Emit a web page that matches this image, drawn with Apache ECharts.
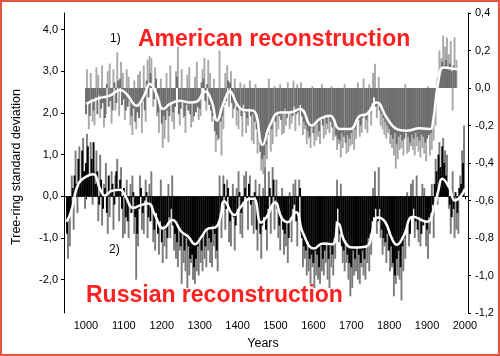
<!DOCTYPE html>
<html>
<head>
<meta charset="utf-8">
<script src="https://cdn.jsdelivr.net/npm/echarts@6/dist/echarts.min.js"></script>
<style>html,body{margin:0;padding:0;background:#fff}#c{width:500px;height:356px}</style>
</head>
<body>
<div id="c"></div>
<script>
// American reconstruction (right axis), 5-year steps starting 1000
const amStart = 1000;
const amDark = [
 -0.14,-0.08,-0.15,-0.06,-0.12,-0.05,-0.14,-0.04,-0.11,-0.08,-0.16,0.02,-0.10,-0.07,-0.12,0.03,-0.08,0.04,0.05,-0.09,
 -0.06,-0.12,-0.10,-0.07,-0.15,-0.11,-0.18,-0.13,-0.16,-0.09,-0.07,-0.12,0.04,-0.05,0.08,0.02,-0.06,0.05,-0.13,-0.09,
 -0.19,-0.15,-0.17,-0.12,-0.15,-0.08,-0.13,-0.10,0.06,-0.14,-0.11,-0.07,-0.15,-0.09,-0.12,-0.14,-0.08,-0.15,-0.13,-0.10,
 -0.11,0.03,0.05,-0.07,0.02,-0.09,-0.12,-0.15,-0.23,-0.25,-0.27,-0.18,-0.15,-0.09,-0.07,0.04,0.03,-0.08,-0.11,-0.09,
 -0.12,-0.10,-0.15,-0.09,-0.13,-0.16,-0.11,-0.15,-0.14,-0.18,-0.22,-0.26,-0.34,-0.38,-0.36,-0.30,-0.25,-0.19,-0.22,-0.16,
 -0.18,-0.13,-0.15,-0.17,-0.14,-0.11,-0.16,-0.13,-0.12,-0.15,-0.10,-0.14,-0.13,-0.09,-0.15,-0.18,-0.20,-0.23,-0.26,-0.21,
 -0.24,-0.20,-0.19,-0.23,-0.17,-0.20,-0.16,-0.19,-0.15,-0.18,-0.21,-0.19,-0.25,-0.27,-0.28,-0.24,-0.26,-0.29,-0.25,-0.27,
 -0.24,-0.21,-0.22,-0.18,-0.17,-0.20,-0.16,-0.14,-0.17,-0.12,-0.13,-0.08,-0.05,-0.10,-0.09,-0.12,-0.14,-0.16,-0.18,-0.20,
 -0.22,-0.25,-0.27,-0.24,-0.30,-0.26,-0.25,-0.28,-0.27,-0.24,-0.26,-0.29,-0.25,-0.27,-0.24,-0.26,-0.28,-0.25,-0.26,-0.29,
 -0.27,-0.25,-0.24,-0.20,-0.12,-0.04,0.06,0.10,0.14,0.12,0.15,0.11,0.13,0.09,0.12,0.10
];
const amLight = [
 0.10,-0.22,0.08,-0.18,-0.20,0.11,0.07,-0.16,0.12,-0.21,-0.14,0.09,0.13,-0.19,0.10,-0.12,0.19,-0.15,0.14,0.08,
 -0.17,0.10,0.06,-0.20,-0.25,0.04,-0.22,0.07,0.09,-0.24,0.12,-0.18,0.15,0.17,0.16,-0.10,0.11,-0.15,-0.24,0.05,
 -0.32,-0.27,0.08,-0.29,0.12,-0.18,-0.22,0.09,0.22,-0.20,0.10,-0.16,-0.24,0.07,0.11,-0.21,-0.18,0.06,0.14,-0.17,
 -0.15,0.10,0.16,-0.12,0.15,0.08,-0.18,0.05,-0.34,-0.28,0.20,-0.36,-0.22,0.08,0.12,-0.10,0.09,-0.16,0.05,-0.20,
 -0.22,0.03,-0.26,0.02,-0.24,-0.20,0.04,-0.28,-0.30,0.02,-0.35,-0.30,-0.44,-0.46,-0.42,-0.38,0.05,-0.34,-0.30,0.01,
 -0.26,-0.22,0.02,-0.25,-0.24,-0.20,0.03,-0.22,-0.19,0.04,-0.23,0.02,-0.20,0.03,-0.25,-0.22,-0.30,-0.27,-0.32,0.01,
 -0.31,-0.28,-0.26,-0.30,0.02,-0.27,-0.25,-0.22,-0.24,0.01,-0.28,-0.26,-0.33,-0.30,-0.37,-0.32,0.02,-0.35,-0.34,-0.31,
 -0.30,-0.33,-0.27,0.03,-0.26,-0.24,0.05,-0.22,-0.24,0.02,-0.20,0.08,0.13,-0.16,0.06,-0.20,-0.22,-0.25,-0.27,-0.24,
 -0.30,-0.32,-0.36,-0.43,-0.38,-0.33,-0.32,-0.36,0.02,-0.35,-0.34,-0.31,-0.33,-0.36,-0.31,-0.34,-0.37,-0.32,-0.35,-0.39,
 0.01,-0.36,-0.33,-0.28,-0.20,0.05,0.20,0.16,0.28,0.22,0.27,0.18,0.25,-0.12,0.27,0.15
];
const amSmoothYears = [1000,1037,1063,1090,1107,1134,1151,1169,1186,1204,1222,1248,1274,1292,1314,1331,1346,1362,1380,1398,1415,1441,1466,1485,1512,1538,1565,1596,1617,1644,1670,1697,1723,1741,1767,1793,1820,1846,1881,1908,1916,1930,1943,1960,1980];
const amSmoothVals = [-0.085,-0.053,-0.041,-0.011,-0.032,-0.094,-0.05,0.021,-0.032,-0.112,-0.085,-0.068,-0.077,-0.073,-0.018,-0.068,-0.174,-0.085,-0.018,-0.085,-0.117,-0.121,-0.302,-0.201,-0.13,-0.13,-0.112,-0.201,-0.165,-0.148,-0.219,-0.219,-0.148,-0.139,-0.077,-0.157,-0.219,-0.228,-0.215,-0.219,-0.174,0.039,0.11,0.105,0.10];

// Russian reconstruction (left axis), 5-year steps starting 950
const ruStart = 950;
const ruDark = [
 -0.9,-0.5,-0.3,0.2,0.5,0.3,0.9,0.4,1.1,0.6,0.8,1.2,0.5,0.9,1.3,0.3,0.6,-0.2,0.4,-0.3,
 0.2,-0.4,0.5,0.1,0.3,-0.2,0.6,0.2,0.4,-0.3,0.2,-0.5,-0.6,-0.2,-0.4,0.1,-0.5,-0.9,-0.3,0.2,
 -0.4,-0.1,0.1,-0.5,-0.6,-0.3,-0.8,-0.4,-0.9,-0.6,-1.1,-0.7,-0.8,-1.0,-0.5,-0.3,-0.7,-0.9,-1.1,-0.8,
 -1.2,-0.9,-1.3,-1.0,-1.2,-1.5,-1.4,-1.7,-1.5,-1.2,-1.1,-1.3,-0.9,-1.2,-0.8,-1.0,-1.1,-0.7,-0.9,-1.3,
 -0.6,-0.4,-0.2,0.3,-0.3,0.2,-0.6,-0.4,-0.5,-0.7,-0.3,0.1,-0.4,-0.2,0.2,-0.1,0.3,-0.2,-0.1,0.1,
 -0.8,-0.6,-0.9,-0.7,-0.5,-0.8,-0.3,0.2,-0.2,0.4,-0.1,-0.3,-0.7,-0.5,-0.8,-0.9,-0.6,-1.0,-0.5,-0.3,
 -0.2,-0.6,-0.4,0.2,-1.0,-1.2,-1.3,-1.1,-1.5,-1.4,-1.6,-1.3,-1.4,-1.7,-1.2,-1.5,-1.3,-1.1,-1.5,-1.2,
 -1.4,-1.0,-0.6,-0.3,-0.9,-1.2,-1.3,-1.1,-1.4,-1.6,-1.7,-1.3,-1.5,-1.2,-1.4,-1.6,-1.3,-1.5,-1.2,-1.0,
 -0.9,-0.6,-0.5,-0.3,-0.6,-0.3,-0.8,-1.0,-1.1,-0.9,-1.3,-1.2,-1.6,-1.9,-1.5,-1.3,-1.7,-1.2,-1.0,-0.8,
 -0.7,-0.9,-0.5,-0.3,-0.6,-0.8,-0.5,-0.9,-0.7,-0.6,-0.8,-0.5,-0.4,-0.2,0.3,0.6,1.0,0.7,1.2,0.8,
 0.5,0.3,-0.2,-0.5,-0.3,0.1,-0.4,0.2,0.3,0.8
];
const ruLight = [
 -1.5,-1.2,0.5,-0.8,1.1,-0.4,1.2,0.2,1.4,-0.3,1.5,0.4,1.3,-0.2,0.6,1.1,-0.6,1.0,-0.7,0.3,
 0.8,-0.9,-0.5,0.6,-0.8,0.5,0.9,-0.6,0.7,-1.0,-0.9,0.4,-1.0,0.3,0.5,-0.9,-2.0,-1.2,0.5,-0.8,
 -0.9,0.4,-1.0,0.3,0.6,-1.1,-1.3,-0.3,-1.4,0.4,-1.6,-1.2,-1.5,0.3,-1.0,0.5,-1.3,-1.5,-1.7,-1.3,
 -2.1,-1.6,-1.8,-2.2,-1.9,-1.6,-2.0,-2.1,-1.8,-1.9,-1.6,-1.8,-1.5,-1.7,-1.3,-1.6,-1.7,-1.2,-1.5,-1.8,
 0.5,-1.0,0.5,-0.8,0.4,-1.1,-1.2,0.3,-1.3,0.2,0.6,-0.9,-1.0,0.5,0.6,-0.8,0.5,-0.7,-0.9,0.4,
 -1.3,0.3,-1.5,0.2,0.7,-1.3,0.6,-0.9,0.7,-0.8,0.4,-1.0,-1.3,0.2,-1.4,-1.2,-1.6,0.1,-1.1,0.3,
 0.4,-1.2,0.4,-0.9,-1.7,-1.5,-1.9,-1.8,-2.1,-1.7,-2.2,-1.9,-2.0,-2.1,-1.8,-1.9,-1.6,-2.0,-2.2,-1.7,
 -1.9,-1.5,0.4,-1.1,0.3,-1.6,-1.8,-1.6,-2.0,-2.4,-2.2,-1.9,-1.8,-2.0,-2.1,-1.7,-1.9,-2.0,-1.6,-1.8,
 -1.4,0.2,0.6,-0.9,0.7,-1.0,-1.4,-1.2,-1.6,-1.3,-1.8,-1.7,-2.4,-2.1,-1.9,-2.0,-2.5,-1.8,-1.5,0.1,
 -1.2,0.3,0.4,-1.0,0.5,-1.1,-1.2,0.3,0.2,-1.2,-1.5,-0.9,0.3,-1.0,0.9,-0.2,1.3,0.5,1.4,1.1,
 1.0,-0.3,-0.9,0.6,-1.0,-0.8,-0.9,0.5,1.1,1.7
];
const ruSmoothYears = [949,962,980,1002,1019,1037,1050,1068,1090,1103,1125,1142,1164,1182,1204,1228,1252,1270,1288,1305,1323,1340,1354,1365,1392,1408,1432,1443,1462,1477,1499,1517,1532,1554,1573,1602,1626,1650,1666,1683,1705,1728,1745,1754,1763,1770,1789,1807,1820,1837,1864,1899,1917,1930,1940,1958,1974,1987,2000];
const ruSmoothVals = [-0.61,-0.33,0.30,0.48,0.53,0.18,0.02,0.13,0.16,0.02,-0.28,-0.22,-0.17,-0.45,-0.77,-0.57,-0.85,-0.97,-1.15,-0.97,-0.77,-0.75,-0.53,-0.12,-0.45,-0.26,-0.06,-0.06,-0.63,-0.49,-0.15,-0.53,-0.62,-0.38,-0.89,-1.25,-1.13,-1.15,-0.65,-1.09,-1.23,-1.22,-1.17,-0.90,-0.57,-0.51,-0.61,-1.01,-1.16,-0.97,-0.49,-0.61,-0.33,0.15,0.42,0.22,-0.10,-0.02,0.18];

const yLeftLabels = v => (Math.abs(v - Math.round(v)) < 1e-6 ? v.toFixed(1).replace('.', ',') : '');
const yRightLabels = v => v.toFixed(1).replace('.', ',').replace('-0,0', '0,0');
const xLabels = v => (Math.abs(v % 100) < 1e-6 ? String(v) : '');

const chart = echarts.init(document.getElementById('c'), null, {renderer: 'canvas'});
const font = '"Liberation Sans", Arial, sans-serif';
const axisLineStyle = {show: true, lineStyle: {color: '#000', width: 1}};

const option = {
  animation: false,
  backgroundColor: '#ffffff',
  grid: {left: 64, right: 32, top: 13, bottom: 43},
  xAxis: {
    type: 'value', min: 942, max: 2008, splitNumber: 10,
    axisLine: axisLineStyle,
    axisTick: {show: true, length: 3, lineStyle: {color: '#000'}},
    splitLine: {show: false},
    axisLabel: {formatter: xLabels, showMinLabel: false, showMaxLabel: false, color: '#000', fontSize: 11, fontFamily: font, margin: 7}
  },
  yAxis: [
    {
      type: 'value', min: -2.8, max: 4.4, splitNumber: 7, position: 'left',
      axisLine: axisLineStyle,
      axisTick: {show: true, length: 3, lineStyle: {color: '#000'}},
      splitLine: {show: false},
      axisLabel: {formatter: yLeftLabels, showMinLabel: false, showMaxLabel: false, color: '#000', fontSize: 11, fontFamily: font, margin: 6}
    },
    {
      type: 'value', min: -1.2, max: 0.4, interval: 0.2, position: 'right',
      axisLine: axisLineStyle,
      axisTick: {show: true, length: 3, lineStyle: {color: '#000'}},
      splitLine: {show: false},
      axisLabel: {formatter: yRightLabels, color: '#000', fontSize: 11, fontFamily: font, margin: 7}
    }
  ],
  series: [
    {type: 'bar', yAxisIndex: 1, barWidth: 1.9, barGap: '-100%', silent: true,
     itemStyle: {color: '#a8a8a8'}, data: amLight.map((v, i) => [amStart + 2.5 + i * 5, v])},
    {type: 'bar', yAxisIndex: 1, barWidth: 1.9, barGap: '-100%', silent: true,
     itemStyle: {color: '#6c6c6c'}, data: amDark.map((v, i) => [amStart + i * 5, v])},
    {type: 'line', yAxisIndex: 1, smooth: 0.5, showSymbol: false, silent: true,
     lineStyle: {color: '#ffffff', width: 2.5}, data: amSmoothYears.map((y, i) => [y, amSmoothVals[i]])},
    {type: 'bar', yAxisIndex: 0, barWidth: 1.9, barGap: '-100%', silent: true,
     itemStyle: {color: '#7a7a7a'}, data: ruLight.map((v, i) => [ruStart + 2.5 + i * 5, v])},
    {type: 'bar', yAxisIndex: 0, barWidth: 1.9, barGap: '-100%', silent: true,
     itemStyle: {color: '#000000'}, data: ruDark.map((v, i) => [ruStart + i * 5, v])},
    {type: 'line', yAxisIndex: 0, smooth: 0.5, showSymbol: false, silent: true,
     lineStyle: {color: '#ffffff', width: 2.5}, data: ruSmoothYears.map((y, i) => [y, ruSmoothVals[i]])}
  ],
  graphic: [
    {type: 'text', x: 138, y: 40, z: 50, style: {text: 'American reconstruction', font: 'bold 23px ' + font, fill: '#ff2020', verticalAlign: 'middle'}},
    {type: 'text', x: 86, y: 296, z: 50, style: {text: 'Russian reconstruction', font: 'bold 23px ' + font, fill: '#ff2020', verticalAlign: 'middle'}},
    {type: 'text', x: 110, y: 39, z: 50, style: {text: '1)', font: '12px ' + font, fill: '#000', verticalAlign: 'middle'}},
    {type: 'text', x: 109, y: 250, z: 50, style: {text: '2)', font: '12px ' + font, fill: '#000', verticalAlign: 'middle'}},
    {type: 'text', x: 263, y: 344, z: 50, style: {text: 'Years', font: '12.5px ' + font, fill: '#000', align: 'center', verticalAlign: 'middle'}},
    {type: 'text', x: 17, y: 167, rotation: Math.PI / 2, z: 50, style: {text: 'Tree-ring standard deviation', font: '12.5px ' + font, fill: '#000', align: 'center', verticalAlign: 'middle'}},
    {type: 'rect', z: 60, shape: {x: 1, y: 1, width: 498, height: 354}, style: {fill: 'none', stroke: '#e8553e', lineWidth: 2}}
  ]
};
chart.setOption(option);
</script>
</body>
</html>
